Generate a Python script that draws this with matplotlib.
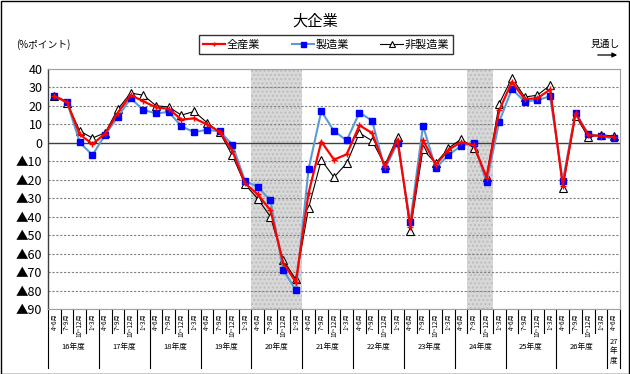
import matplotlib
matplotlib.use("Agg")
import matplotlib.pyplot as plt
from matplotlib.patches import Rectangle
from matplotlib.lines import Line2D
import matplotlib.transforms as mtransforms

plt.rcParams['font.family'] = ['Noto Sans CJK JP', 'DejaVu Sans']

years = ["16年度", "17年度", "18年度", "19年度", "20年度", "21年度",
         "22年度", "23年度", "24年度", "25年度", "26年度", "27\n年\n度"]
quarters = ["4~6月", "7~9月", "10~12月", "1~3月"]
tick_labels = [q for _ in range(11) for q in quarters] + ["4~6月"]

all_ind = [25.4, 22, 4.6, -0.7, 5, 16.4, 25.9, 22.5, 19.2, 18.4, 12.6, 13.3,
           10, 6, -4.2, -22, -27.9, -36.5, -65, -75.4, -27.2, 0.7, -9.1, -6.2,
           9.5, 5.3, -13, 1.8, -45.5, 1.6, -11.9, -3.8, 0.4, -1.3, -18.8, 17.7,
           33, 23.7, 24.1, 28.9, -23.2, 15.9, 4.2, 3.8, 3.1]
mfg = [25.4, 22.1, 0.2, -6.6, 4.4, 14.1, 24.1, 17.9, 15.9, 16.8, 8.9, 5.8,
       7.1, 6.2, -0.9, -20.6, -23.9, -31.2, -68.9, -79.8, -14.2, 17.2, 6.4, 1.3,
       16.4, 12, -14.2, 0, -43.1, 9.3, -13.7, -6.6, -1.6, 0, -21.4, 11.5,
       29.2, 22.3, 23.2, 25.2, -20.5, 16.4, 4.9, 3.5, 2.4]
non_mfg = [25.5, 21.5, 6.4, 2.6, 5.5, 18.3, 27, 25.8, 20.1, 19.4, 15, 17,
           11, 5.7, -6.8, -22.5, -30.3, -40, -63.4, -74, -35.3, -9.3, -18.6, -11,
           5.3, 1.1, -12, 3.3, -47.5, -3.5, -11.1, -2.9, 2, -2.6, -18.3, 21.2,
           35.3, 24.8, 25.8, 31.2, -24.5, 14.8, 3.1, 4.4, 3.7]
shaded = [(16, 19), (33, 34)]
yticks = list(range(40, -100, -10))
ytick_labels = [str(v) if v >= 0 else "▲" + str(-v) for v in yticks]

W, H = 630, 374
fig = plt.figure(figsize=(W / 100, H / 100), dpi=100)
ax = fig.add_axes([48 / W, 1 - 309 / H, 572 / W, 240 / H])

x = list(range(len(all_ind)))
for a, b in shaded:
    ax.axvspan(a - 0.5, b + 0.5, facecolor='#d8d8d8', edgecolor='#bdbdbd',
               hatch='....', linewidth=0, zorder=0)

for v in yticks:
    if v != 0:
        ax.axhline(v, color='#808080', lw=0.8, ls=(0, (2, 1.5)), zorder=1)
ax.axhline(0, color='#404040', lw=1.0, zorder=1)

ax.plot(x, non_mfg, color='black', lw=0.8, marker='^', ms=5.5,
        mfc='white', mec='black', mew=0.8, zorder=3, label='非製造業')
ax.plot(x, mfg, color='#5b9bd5', lw=1.5, marker='s', ms=4.5,
        mfc='#0000ff', mec='#0000ff', zorder=4, label='製造業')
ax.plot(x, all_ind, color='#ff0000', lw=1.6, marker='+', ms=4, mew=1.0,
        mec='#ff0000', zorder=5, label='全産業')

ax.set_xlim(-0.5, len(all_ind) - 0.5)
ax.set_ylim(-90, 40)
ax.set_yticks(yticks)
ax.set_yticklabels(ytick_labels, fontsize=9)
ax.tick_params(axis='y', length=0, pad=4)
ax.set_xticks(x)
ax.set_xticklabels(tick_labels, rotation=90, fontsize=4.5, va='top')
ax.tick_params(axis='x', length=0, pad=3)
for s in ['top', 'right', 'bottom']:
    ax.spines[s].set_color('#a0a0a0')
    ax.spines[s].set_linewidth(0.8)
ax.spines['left'].set_color('#404040')
ax.spines['left'].set_linewidth(1.0)

# category separators
trans = mtransforms.blended_transform_factory(ax.transData, ax.transAxes)
for i in range(len(all_ind) + 1):
    xb = i - 0.5
    if i % 4 == 0 or i == len(all_ind):
        y0 = -(368 - 309) / 240
    else:
        y0 = -(333 - 309) / 240
    ax.add_line(Line2D([xb, xb], [0, y0], transform=trans, color='black',
                       lw=0.8, clip_on=False))
for k, yl in enumerate(years):
    if k < 11:
        ax.text(4 * k + 1.5, -(347 - 309) / 240, yl, transform=trans,
                ha='center', va='center', fontsize=5.5)
    else:
        ax.text(44, -(338 - 309) / 240, yl, transform=trans, ha='center',
                va='top', fontsize=5.5, linespacing=1.2)

fig.text(315 / W, 1 - 21 / H, "大企業", ha='center', va='center', fontsize=11)
fig.text(16 / W, 1 - 45 / H, "(%ポイント)", ha='left', va='center', fontsize=7)
fig.text(605 / W, 1 - 44 / H, "見通し", ha='center', va='center', fontsize=7)
fig.add_artist(matplotlib.patches.FancyArrowPatch(
    (595 / W, 1 - 55 / H), (620 / W, 1 - 55 / H), transform=fig.transFigure,
    arrowstyle='-|>', mutation_scale=7, color='black', lw=0.9))

handles, labels = ax.get_legend_handles_labels()
order = [2, 1, 0]
leg = fig.legend([handles[i] for i in order], [labels[i] for i in order],
                 loc='center', bbox_to_anchor=(326 / W, 1 - 44.5 / H), ncol=3,
                 fontsize=8, frameon=True, fancybox=False, edgecolor='black',
                 handlelength=2.0, handletextpad=0.2, columnspacing=2.8,
                 borderpad=0.35, borderaxespad=0, markerscale=0.8)
leg.get_frame().set_linewidth(1.0)

fig.add_artist(Rectangle((0.5 / W, 0.5 / H), 1 - 1.5 / W, 1 - 1.5 / H,
                         transform=fig.transFigure, fill=False,
                         edgecolor='black', lw=1.0))

fig.savefig("out.png", dpi=100)
